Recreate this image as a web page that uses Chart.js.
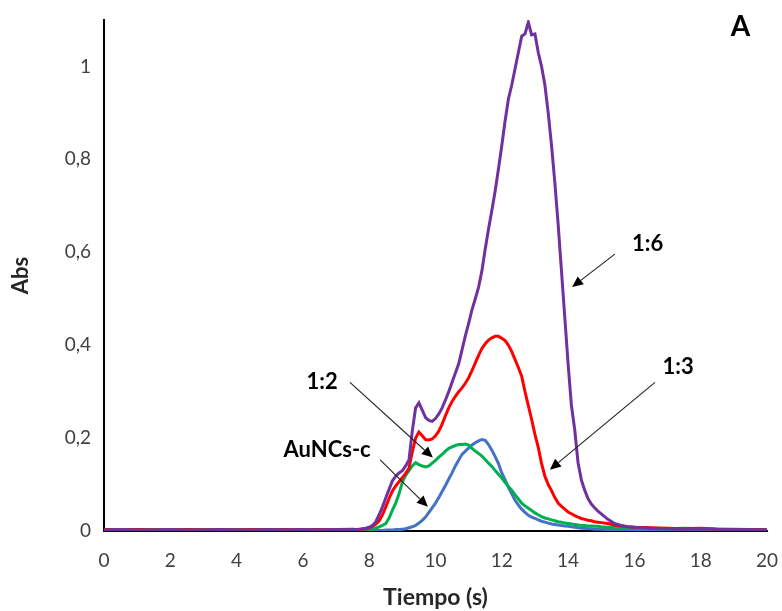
<!DOCTYPE html>
<html><head><meta charset="utf-8">
<script src="https://cdn.jsdelivr.net/npm/chart.js@4/dist/chart.umd.min.js"></script>
<style>html,body{margin:0;padding:0;background:#fff}#wrap{width:782px;height:611px}</style>
</head><body><div id="wrap"><canvas id="c"></canvas></div>
<script>
const time = [0,0.5,1,1.5,2,2.5,3,3.5,4,4.5,5,5.5,6,6.5,7,7.5,
7.6,7.7,7.8,7.9,8.0,8.1,8.2,8.3,8.4,8.5,8.6,8.7,8.8,8.9,
9.0,9.1,9.2,9.3,9.4,9.5,9.6,9.7,9.8,9.9,
10.0,10.1,10.2,10.3,10.4,10.5,10.6,10.7,10.8,10.9,
11.0,11.1,11.2,11.3,11.4,11.5,11.6,11.7,11.8,11.9,
12.0,12.1,12.2,12.3,12.4,12.5,12.6,12.7,12.8,12.9,
13.0,13.1,13.2,13.3,13.4,13.5,13.6,13.7,13.8,13.9,
14.0,14.1,14.2,14.3,14.4,14.5,14.6,14.7,14.8,14.9,
15.0,15.2,15.4,15.6,15.8,16.0,16.5,17,17.5,18,18.5,19,19.5,20];

const ratio16 = [0.002,0.003,0.002,0.002,0.003,0.002,0.002,0.003,0.002,0.002,0.003,0.002,0.003,0.002,0.003,0.004,
0.003,0.004,0.005,0.006,0.008,0.012,0.020,0.035,0.052,0.071,0.090,0.108,0.118,0.125,
0.130,0.140,0.153,0.215,0.265,0.276,0.260,0.244,0.238,0.236,
0.242,0.252,0.265,0.282,0.300,0.320,0.340,0.360,0.390,0.420,
0.447,0.476,0.500,0.525,0.560,0.607,0.650,0.690,0.732,0.780,
0.830,0.883,0.930,0.960,0.995,1.030,1.065,1.070,1.095,1.068,
1.070,1.030,1.000,0.960,0.900,0.830,0.750,0.660,0.560,0.460,
0.360,0.270,0.218,0.147,0.110,0.088,0.070,0.058,0.050,0.043,
0.037,0.025,0.016,0.012,0.009,0.008,0.006,0.005,0.004,0.005,0.004,0.003,0.003,0.002];

const ratio13 = [0.003,0.002,0.003,0.002,0.002,0.003,0.002,0.003,0.002,0.003,0.002,0.003,0.002,0.003,0.002,0.003,
0.003,0.003,0.004,0.005,0.007,0.010,0.015,0.022,0.035,0.052,0.070,0.086,0.097,0.106,
0.115,0.124,0.135,0.170,0.200,0.213,0.205,0.197,0.196,0.198,
0.205,0.215,0.230,0.248,0.265,0.279,0.290,0.300,0.308,0.318,
0.330,0.345,0.362,0.378,0.393,0.403,0.411,0.416,0.419,0.419,
0.415,0.410,0.400,0.386,0.369,0.352,0.333,0.300,0.270,0.240,
0.208,0.180,0.145,0.118,0.100,0.087,0.072,0.060,0.053,0.047,
0.041,0.037,0.033,0.030,0.027,0.025,0.023,0.022,0.020,0.019,
0.018,0.016,0.013,0.011,0.009,0.008,0.007,0.006,0.005,0.006,0.004,0.003,0.003,0.002];

const ratio12 = [0.003,0.002,0.003,0.003,0.002,0.003,0.002,0.003,0.003,0.002,0.003,0.002,0.003,0.003,0.002,0.002,
0.002,0.002,0.002,0.003,0.003,0.004,0.006,0.009,0.012,0.016,0.028,0.045,0.060,0.080,
0.105,0.120,0.130,0.140,0.147,0.143,0.140,0.138,0.140,0.146,
0.152,0.159,0.165,0.172,0.178,0.181,0.184,0.186,0.186,0.187,
0.185,0.178,0.172,0.167,0.161,0.154,0.146,0.139,0.130,0.122,
0.114,0.104,0.096,0.088,0.078,0.069,0.060,0.054,0.049,0.044,
0.039,0.035,0.031,0.028,0.026,0.024,0.022,0.020,0.019,0.017,
0.016,0.015,0.014,0.013,0.012,0.012,0.011,0.011,0.010,0.010,
0.009,0.008,0.008,0.007,0.007,0.006,0.006,0.005,0.006,0.005,0.004,0.004,0.003,0.003];

const aunc = [0.002,0.002,0.003,0.002,0.002,0.002,0.003,0.002,0.002,0.002,0.003,0.002,0.002,0.002,0.002,0.001,
0.001,0.001,0.001,0.001,0.001,0.001,0.001,0.001,0.001,0.002,0.002,0.002,0.003,0.003,
0.004,0.005,0.007,0.009,0.012,0.017,0.023,0.030,0.040,0.050,
0.060,0.072,0.085,0.098,0.112,0.125,0.140,0.153,0.165,0.172,
0.179,0.185,0.190,0.194,0.197,0.195,0.186,0.174,0.160,0.145,
0.125,0.110,0.094,0.080,0.066,0.056,0.047,0.040,0.034,0.030,
0.027,0.024,0.021,0.019,0.017,0.015,0.014,0.013,0.012,0.011,
0.010,0.009,0.008,0.007,0.006,0.006,0.005,0.005,0.004,0.004,
0.004,0.003,0.003,0.003,0.002,0.002,0.002,0.002,0.002,0.002,0.002,0.002,0.002,0.002];

const seriesNames = ['1:6','1:3','1:2','AuNCs-c'];
const seriesColors = ['#7030A0','#FF0000','#00B050','#4472C4'];
const xTicks = [0,2,4,6,8,10,12,14,16,18,20];
const yTicks = [0,0.2,0.4,0.6,0.8,1];

// annotations in data units: label, text position, arrow start, arrow end
const notes = [
  {text:'1:6', tx:16.4, ty:0.618, x1:15.41, y1:0.596, x2:14.12, y2:0.525},
  {text:'1:3', tx:17.32, ty:0.354, x1:16.62, y1:0.320, x2:13.45, y2:0.132},
  {text:'1:2', tx:6.58, ty:0.322, x1:7.42, y1:0.320, x2:9.92, y2:0.158},
  {text:'AuNCs-c', tx:6.73, ty:0.175, x1:8.33, y1:0.153, x2:9.77, y2:0.052}
];
const panelLabel = {text:'A', tx:19.2, ty:1.086};

const allSeries = [ratio16, ratio13, ratio12, aunc];
const datasets = allSeries.map((arr,i)=>({
  label: seriesNames[i],
  data: arr.map((v,j)=>({x:time[j], y:v})),
  borderColor: seriesColors[i],
  borderWidth: 3,
  pointRadius: 0,
  tension: 0,
  fill: false
}));

const notePlugin = {
  id:'notes',
  afterDatasetsDraw(chart){
    const ctx = chart.ctx, xs = chart.scales.x, ys = chart.scales.y;
    ctx.save();
    notes.forEach(n=>{
      const x1=xs.getPixelForValue(n.x1), y1=ys.getPixelForValue(n.y1);
      const x2=xs.getPixelForValue(n.x2), y2=ys.getPixelForValue(n.y2);
      const ang=Math.atan2(y2-y1,x2-x1), hl=11, hw=5;
      const bx=x2-hl*Math.cos(ang), by=y2-hl*Math.sin(ang);
      ctx.strokeStyle='#262626'; ctx.lineWidth=1.2;
      ctx.beginPath(); ctx.moveTo(x1,y1); ctx.lineTo(bx,by); ctx.stroke();
      ctx.fillStyle='#000';
      ctx.beginPath(); ctx.moveTo(x2,y2);
      ctx.lineTo(bx+hw*Math.sin(ang), by-hw*Math.cos(ang));
      ctx.lineTo(bx-hw*Math.sin(ang), by+hw*Math.cos(ang));
      ctx.closePath(); ctx.fill();
      ctx.font='bold 22px Lato'; ctx.textAlign='center'; ctx.textBaseline='middle';
      ctx.fillText(n.text, xs.getPixelForValue(n.tx), ys.getPixelForValue(n.ty));
    });
    ctx.font='bold 28px Lato'; ctx.textAlign='center'; ctx.textBaseline='middle'; ctx.fillStyle='#000';
    ctx.fillText(panelLabel.text, xs.getPixelForValue(panelLabel.tx), ys.getPixelForValue(panelLabel.ty));
    ctx.restore();
  }
};

new Chart(document.getElementById('c'), {
  type:'line',
  data:{datasets},
  options:{
    responsive:true, maintainAspectRatio:false, animation:false,
    layout:{padding:{top:20,right:15,left:4,bottom:0}},
    plugins:{legend:{display:false}, tooltip:{enabled:false}},
    scales:{
      x:{type:'linear', min:0, max:20,
        afterBuildTicks(s){ s.ticks = xTicks.map(v=>({value:v})); },
        afterFit(s){ s.height = 80; s.paddingLeft = 0; s.paddingRight = 0; },
        grid:{display:false, drawTicks:false},
        border:{display:true, color:'#000', width:2},
        ticks:{color:'#404040', font:{family:'Lato', size:19}, padding:18, maxRotation:0},
        title:{display:true, text:'Tiempo (s)', color:'#262626', font:{family:'Lato', size:23, weight:'bold'}, padding:{top:4, bottom:0}}
      },
      y:{type:'linear', min:0, max:1.1,
        afterBuildTicks(s){ s.ticks = yTicks.map(v=>({value:v})); },
        afterFit(s){ s.width = 100; s.paddingTop = 0; s.paddingBottom = 0; },
        grid:{display:false, drawTicks:false},
        border:{display:true, color:'#000', width:2},
        ticks:{color:'#404040', font:{family:'Lato', size:19}, padding:13,
          callback:v=>String(Math.round(v*10)/10).replace('.',',')},
        title:{display:true, text:'Abs', color:'#262626', font:{family:'Lato', size:22, weight:'bold'}, padding:{bottom:10}}
      }
    }
  },
  plugins:[notePlugin]
});
</script></body></html>
